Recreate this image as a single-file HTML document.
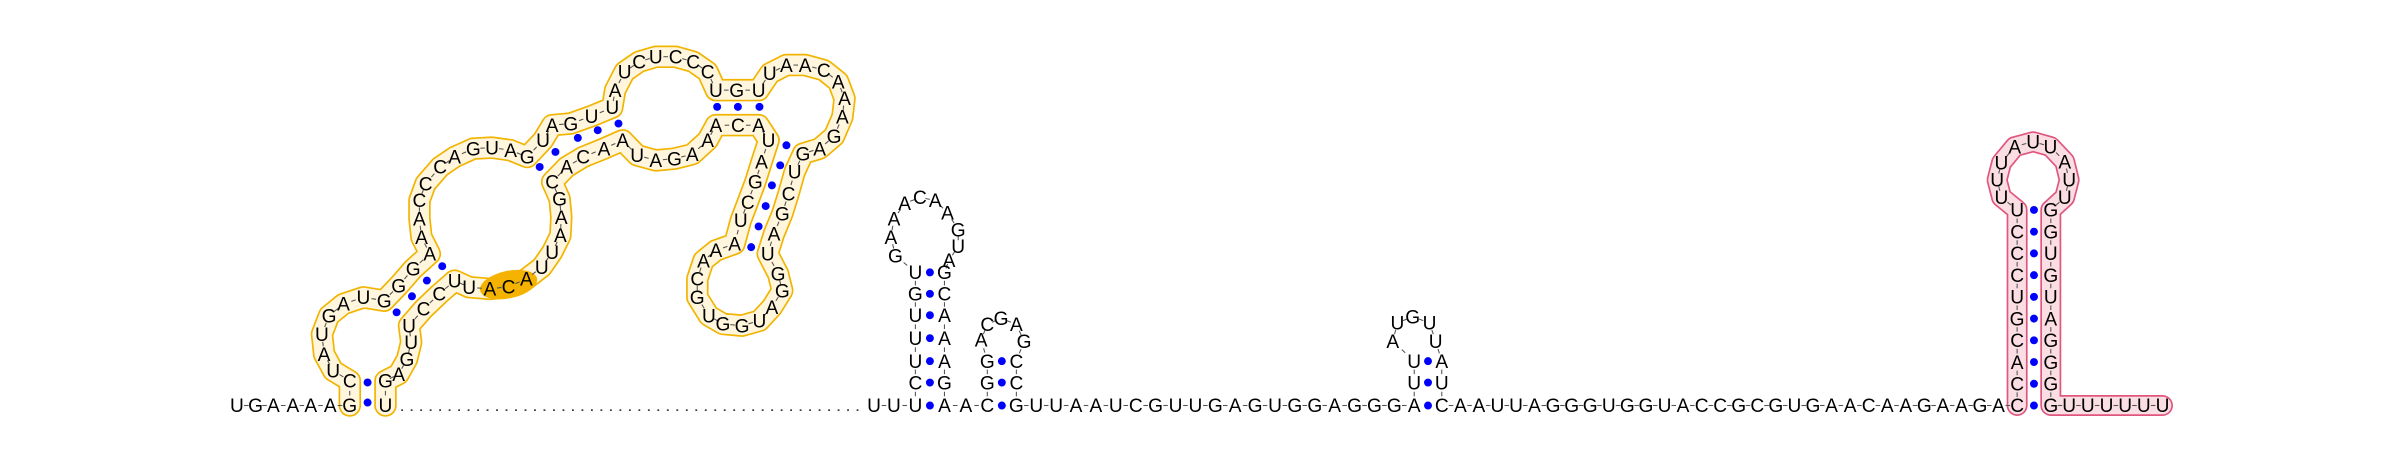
<!DOCTYPE html>
<html><head><meta charset="utf-8"><style>
html,body{margin:0;padding:0;background:#fff;}
svg{display:block;}
text{font-family:"Liberation Sans",sans-serif;font-size:12.5px;fill:#000;}
</style></head><body>
<svg id="rna" width="2400" height="456" viewBox="0 0 1568 298" xmlns="http://www.w3.org/2000/svg">
<g id="bands"></g><g id="bb"></g><g id="dots"></g><g id="letters"></g>
</svg>
<script>
function zx(x){return 143.8+x/3.69;} function zy(y){return 19.6+y/4.58;}
function px(x){return (1980+x/3)/1.5306;} function py(y){return (120+y/3)/1.5306;}
const tail5 = [['U',40],['G',85],['A',128],['A',175],['A',218],['A',265]];
const yellowSeq = [['G',312,1125],['C',312,1050],['U',272,1020],['A',250,970],['U',245,910],['G',262,855],['A',297,820],['U',345,800],['G',395,810],['G',430,765],['G',465,715],['A',505,670],['A',485,620],['A',480,565],['C',480,510],['C',495,460],['C',530,410],['A',565,380],['G',610,355],['U',655,352],['A',700,360],['G',740,380],['U',778,330],['A',800,285],['G',845,280],['U',895,258],['U',945,232],['A',952,180],['U',975,125],['C',1010,95],['U',1050,80],['C',1098,80],['C',1140,95],['C',1175,125],['U',1195,180],['G',1245,180],['U',1298,180],['U',1325,130],['A',1365,105],['A',1410,105],['C',1455,120],['A',1490,155],['A',1505,205],['A',1500,260],['G',1480,318],['A',1445,355],['G',1405,370],['U',1385,425],['C',1370,490],['G',1355,550],['A',1335,610],['U',1320,670],['G',1345,730],['G',1355,780],['A',1330,830],['U',1300,870],['G',1258,885],['G',1212,880],['U',1178,855],['G',1150,800],['C',1150,745],['A',1165,690],['A',1195,660],['A',1240,640],['U',1255,570],['C',1272,515],['G',1290,455],['A',1305,395],['U',1322,330],['A',1298,285],['C',1248,285],['A',1195,285],['A',1175,330],['A',1138,372],['G',1095,385],['A',1050,390],['U',1005,375],['A',970,330],['A',925,355],['C',875,380],['A',835,410],['C',800,455],['G',818,505],['A',822,560],['A',820,615],['U',800,665],['U',775,710],['A',738,745],['C',695,768],['A',650,775],['U',600,770],['U',565,750],['C',528,790],['C',490,835],['U',455,885],['U',460,935],['G',450,985],['A',430,1030],['G',398,1050],['U',398,1125]];
const yellowPairs = [[355,1055],[355,1115],[425,845],[462,797],[498,750],[535,707],[770,410],[808,365],[862,323],[910,300],[960,280],[1198,230],[1248,230],[1300,230],[1365,345],[1350,405],[1330,465],[1315,527],[1298,588],[1280,650]];
const stem1L = ['C','U','U','U','G','U'];
const stem1R = ['G','A','A','A','C','G'];
const loop1 = [['G',585,167],['A',582,155],['A',584,143],['A',591,133],['C',601,129],['A',611,131],['A',619,139],['G',626,150],['U',626,161],['A',620,170]];
const stem2L = ['G','G']; const stem2R = ['C','C'];
const loop2 = [['A',641,222],['C',645,212],['G',654,208],['A',664,212],['G',669,223]];
const midSeq = ['G','U','U','A','A','U','C','G','U','U','G','A','G','U','G','G','A','G','G','G','A'];
const stem3L = ['U','U']; const stem3R = ['A','U'];
const loop3 = [['A',910,223],['U',913,211],['G',923,207],['U',934,211],['U',938,223]];
const seq3 = ['A','A','U','U','A','G','G','G','U','G','G','U','A','C','C','G','C','G','U','G','A','A','C','A','A','G','A','A','G','A'];
const pinkL = ['C','C','A','C','G','U','C','C','C','U'];
const pinkLoop = [['U',65,232],['U',52,180],['U',65,128],['A',105,80],['U',160,65],['U',212,80],['A',255,125],['U',268,180],['U',255,232]];
const pinkR = ['G','G','G','G','A','U','G','U','G','G'];
const tail3 = ['U','U','U','U','U','U'];

const NS='http://www.w3.org/2000/svg';
const gL=document.getElementById('letters'),gB=document.getElementById('bb'),gD=document.getElementById('dots'),gBand=document.getElementById('bands');
function mk(t,a,p){const e=document.createElementNS(NS,t);for(const k in a)e.setAttribute(k,a[k]);p.appendChild(e);return e;}
function letter(c,x,y){const t=mk('text',{x:x,y:y+4.4,'text-anchor':'middle'},gL);t.textContent=c;

return [x,y];}
function dot(x,y){const e=mk('circle',{cx:x,cy:y,r:2.6,fill:'#0000ff'},gD);

}
function link(a,b){const mx=(a[0]+b[0])/2,my=(a[1]+b[1])/2,dx=b[0]-a[0],dy=b[1]-a[1],l=Math.hypot(dx,dy)||1;
mk('line',{x1:mx-dx/l*1.5,y1:my-dy/l*1.5,x2:mx+dx/l*1.5,y2:my+dy/l*1.5,stroke:'#555','stroke-width':0.7},gB);}
function band(pts,outer,inner,w,name){const d='M'+pts.map(p=>p[0].toFixed(1)+','+p[1].toFixed(1)).join('L');
const o=mk('path',{d:d,fill:'none',stroke:outer,'stroke-width':w+2.2,'stroke-linejoin':'round','stroke-linecap':'round'},gBand);


mk('path',{d:d,fill:'none',stroke:inner,'stroke-width':w,'stroke-linejoin':'round','stroke-linecap':'round'},gBand);}
const all=[];
const Y0=265;
tail5.forEach(t=>all.push(letter(t[0],zx(t[1]),Y0)));
const ypts=yellowSeq.map(t=>[zx(t[1]),zy(t[2])]);
ypts[0][1]=Y0; ypts[ypts.length-1][1]=Y0;
band(ypts,'#f2b400','#fff6dd',12.5,'yellow-domain');
const hl=mk('ellipse',{cx:zx(695),cy:zy(762),rx:19,ry:9,fill:'#f5b300',transform:'rotate(-12 '+zx(695)+' '+zy(762)+')'},gBand);


yellowSeq.forEach((t,i)=>all.push(letter(t[0],ypts[i][0],ypts[i][1])));
yellowPairs.forEach(p=>dot(zx(p[0]),zy(p[1])));
for(let i=1;i<all.length;i++)link(all[i-1],all[i]);
const lk=mk('line',{x1:262,y1:Y0+3,x2:563,y2:Y0+3,stroke:'#222','stroke-width':1,'stroke-dasharray':'1.2 5'},gB);


const rest=[];
function push(c,x,y){rest.push(letter(c,x,y));}
push('U',571,Y0);push('U',584,Y0);push('U',598,Y0);
const s1rows=[250,236,221,206,192,178];
stem1L.forEach((c,i)=>push(c,598,s1rows[i]));
loop1.forEach(t=>push(t[0],t[1],t[2]));
stem1R.slice().reverse().forEach((c,i)=>push(c,617,s1rows[5-i]));
push('A',617,Y0);push('A',631,Y0);push('C',645,Y0);
s1rows.forEach(y=>dot(607.5,y)); dot(607.5,Y0);
push(stem2L[0],645,250);push(stem2L[1],645,236);
loop2.forEach(t=>push(t[0],t[1],t[2]));
push(stem2R[0],664,236);push(stem2R[1],664,250);
dot(654.5,250);dot(654.5,236);dot(654.5,Y0);
const stepA=(924-664)/20;
midSeq.forEach((c,i)=>push(c,664+i*stepA,Y0));
push(stem3L[0],924,250);push(stem3L[1],924,236);
loop3.forEach(t=>push(t[0],t[1],t[2]));
push(stem3R[0],942,236);push(stem3R[1],942,250);
dot(933,250);dot(933,236);dot(933,Y0);
const stepB=(1318-942)/31;
push('C',942,Y0);
seq3.forEach((c,i)=>push(c,942+(i+1)*stepB,Y0));
const pr=[];for(let i=0;i<10;i++)pr.push(Y0-i*14.2);
const ppts=[];
pinkL.forEach((c,i)=>ppts.push([1318,pr[i],c]));
pinkLoop.forEach(t=>ppts.push([px(t[1]),py(t[2]),t[0]]));
pinkR.slice().reverse().forEach((c,i)=>ppts.push([1340,pr[9-i],c]));
tail3.forEach((c,i)=>ppts.push([1352+i*12.2,Y0,c]));
band(ppts,'#e0567e','#fbdde4',11.5,'pink-hairpin');
ppts.forEach(p=>push(p[2],p[0],p[1]));
pr.forEach(y=>dot(1329,y));
for(let i=1;i<rest.length;i++){if(Math.hypot(rest[i][0]-rest[i-1][0],rest[i][1]-rest[i-1][1])<30)link(rest[i-1],rest[i]);}
</script>
</body></html>
